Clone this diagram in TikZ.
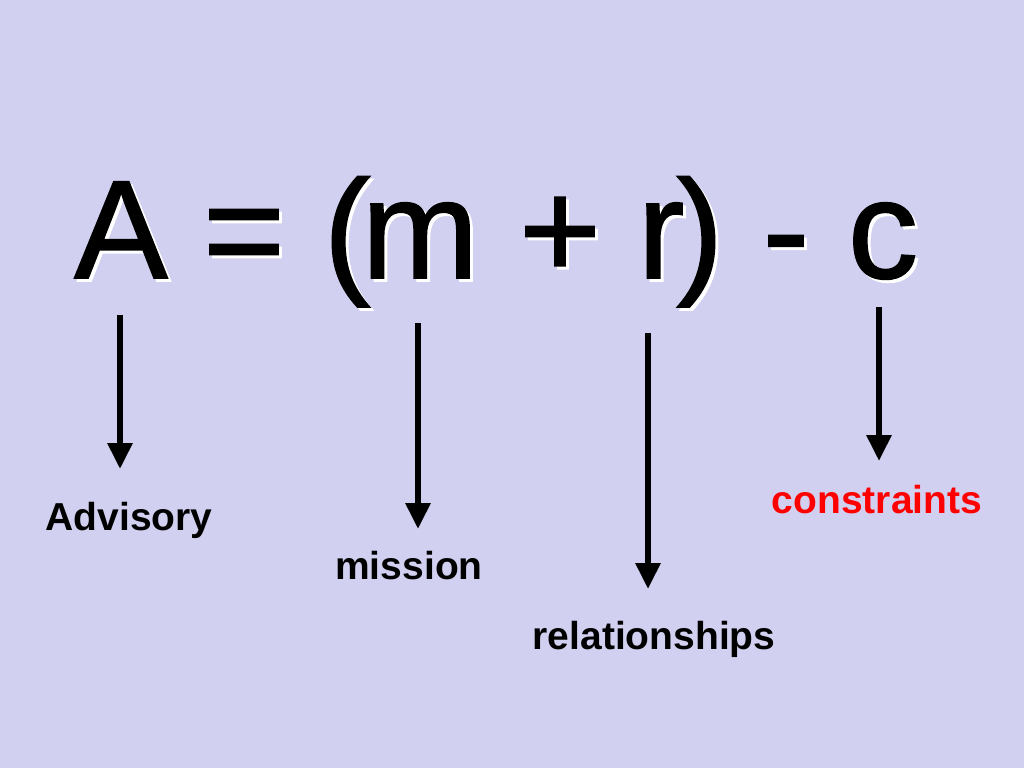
\documentclass[tikz,border=0pt]{standalone}
\usepackage{fontspec}
\setmainfont{Liberation Sans}
\newfontfamily\termfont{Liberation Sans}[FakeBold=1.2]
\usetikzlibrary{arrows.meta}
\definecolor{slidebg}{RGB}{209,208,240}
\definecolor{labelred}{RGB}{255,0,0}
\tikzset{
  term/.style={anchor=base,inner sep=0pt,font=\termfont\fontsize{140}{168}\selectfont},
  shade/.style={term,text=white},
  word/.style={anchor=base,inner sep=0pt,font=\bfseries\fontsize{39}{46}\selectfont},
  pointer/.style={-{Triangle[width=24pt,length=26pt]},line width=6pt}
}
\begin{document}
\begin{tikzpicture}[x=1pt,y=-1pt]
      \useasboundingbox[fill=slidebg] (0,0) rectangle (1024,768);
      % white shadow behind the formula
      \draw
        (124,281) node[shade]{A}
        (247,281) node[shade]{=}
        (350,281) node[shade]{(}
        (423,281) node[shade]{m}
        (563,281) node[shade]{+}
        (664,281) node[shade]{r}
        (703,281) node[shade]{)}
        (789,281) node[shade]{-}
        (886,281) node[shade]{c};
      \draw
        (121,278) node[term] (A){A}
        (244,278) node[term] (eq){=}
        (347,278) node[term] (lp){(}
        (420,278) node[term] (m){m}
        (560,278) node[term] (plus){+}
        (661,278) node[term] (r){r}
        (700,278) node[term] (rp){)}
        (786,278) node[term] (minus){-}
        (883,278) node[term] (c){c};
      \draw
        (129,530) node[word] (advisory){Advisory}
        (409,579) node[word] (mission){mission}
        (654,649) node[word] (relationships){relationships}
        (877,513) node[word,text=labelred] (constraints){constraints};
      \coordinate (A1) at (120,315);
      \coordinate (A2) at (120,469);
      \coordinate (m1) at (418,323);
      \coordinate (m2) at (418,529);
      \coordinate (r1) at (648,333);
      \coordinate (r2) at (648,589);
      \coordinate (c1) at (879,307);
      \coordinate (c2) at (879,461);
      \begin{scope}[pointer]
        \draw (A1) to (A2);
        \draw (m1) to (m2);
        \draw (r1) to (r2);
        \draw (c1) to (c2);
      \end{scope}
    \end{tikzpicture}
\end{document}
